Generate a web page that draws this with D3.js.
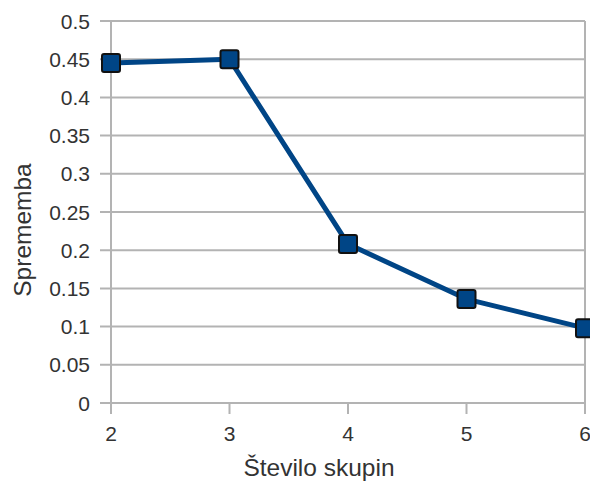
<!DOCTYPE html>
<html>
<head>
<meta charset="utf-8">
<script src="https://cdn.jsdelivr.net/npm/d3@7"></script>
<style>
  html, body { margin: 0; padding: 0; background: #fff; }
  svg { display: block; }
  text { font-family: "Liberation Sans", Arial, sans-serif; fill: #333; }
</style>
</head>
<body>
<svg id="chart" width="590" height="483"></svg>
<script>
// Cluster counts and the change value for each
const clusters = [2, 3, 4, 5, 6];
const change = [0.445, 0.450, 0.208, 0.136, 0.098];
const yTicks = [0, 0.05, 0.1, 0.15, 0.2, 0.25, 0.3, 0.35, 0.4, 0.45, 0.5];
const xLabel = "Število skupin";
const yLabel = "Sprememba";

(function () {
  const svg = d3.select("#chart");
  const plotLeft = 111, plotRight = 585, plotTop = 21, plotBottom = 403;

  const x = d3.scaleLinear().domain([2, 6]).range([plotLeft, plotRight]);
  const y = d3.scaleLinear().domain([0, 0.5]).range([plotBottom, plotTop]);

  const gridColor = "#b3b3b3";

  // Horizontal grid lines
  svg.append("g").selectAll("line").data(yTicks).join("line")
    .attr("x1", plotLeft - 11).attr("x2", plotRight)
    .attr("y1", d => y(d)).attr("y2", d => y(d))
    .attr("stroke", gridColor).attr("stroke-width", 2);

  // Left and right frame lines
  [plotLeft, plotRight].forEach(px => {
    svg.append("line").attr("x1", px).attr("x2", px)
      .attr("y1", plotTop).attr("y2", plotBottom + 11)
      .attr("stroke", gridColor).attr("stroke-width", 2);
  });

  // X tick marks
  svg.append("g").selectAll("line").data(clusters).join("line")
    .attr("x1", d => x(d)).attr("x2", d => x(d))
    .attr("y1", plotBottom).attr("y2", plotBottom + 11)
    .attr("stroke", gridColor).attr("stroke-width", 2);

  // Y tick labels
  svg.append("g").selectAll("text").data(yTicks).join("text")
    .attr("x", plotLeft - 21).attr("y", d => y(d))
    .attr("dy", "0.36em")
    .attr("text-anchor", "end")
    .attr("font-size", 21)
    .text(d => d3.format("")(d));

  // X tick labels
  svg.append("g").selectAll("text").data(clusters).join("text")
    .attr("x", d => x(d)).attr("y", 441)
    .attr("text-anchor", "middle")
    .attr("font-size", 21)
    .text(d => d);

  // Axis titles
  svg.append("text")
    .attr("x", 319).attr("y", 476)
    .attr("text-anchor", "middle")
    .attr("font-size", 24.5)
    .text(xLabel);

  svg.append("text")
    .attr("transform", "translate(31, 230) rotate(-90)")
    .attr("text-anchor", "middle")
    .attr("font-size", 24.5)
    .text(yLabel);

  // Series line
  const pts = clusters.map((c, i) => [c, change[i]]);
  svg.append("path")
    .datum(pts)
    .attr("fill", "none")
    .attr("stroke", "#004586")
    .attr("stroke-width", 5)
    .attr("stroke-linejoin", "round")
    .attr("d", d3.line().x(d => x(d[0])).y(d => y(d[1])));

  // Square markers
  const m = 18;
  svg.append("g").selectAll("rect").data(pts).join("rect")
    .attr("x", d => x(d[0]) - m / 2)
    .attr("y", d => y(d[1]) - m / 2)
    .attr("width", m).attr("height", m)
    .attr("rx", 2)
    .attr("fill", "#004586")
    .attr("stroke", "#111")
    .attr("stroke-width", 2);
})();
</script>
</body>
</html>
